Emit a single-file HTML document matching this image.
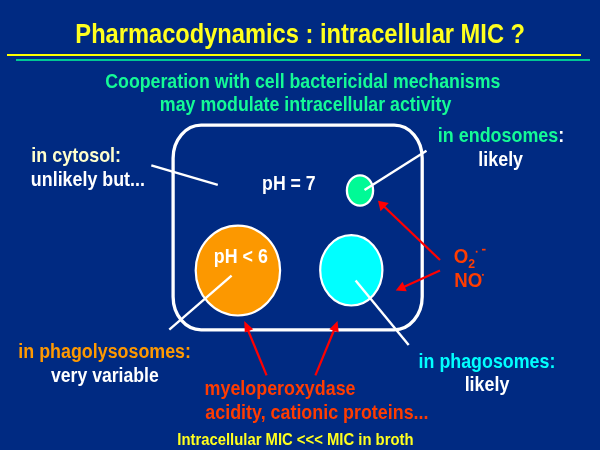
<!DOCTYPE html>
<html><head><meta charset="utf-8">
<style>
html,body{margin:0;padding:0;}
body{width:600px;height:450px;background:#002a82;overflow:hidden;}
svg{display:block;will-change:transform;}
text{font-family:"Liberation Sans",sans-serif;font-weight:bold;}
</style></head><body>
<svg width="600" height="450" viewBox="0 0 600 450">
<rect x="7" y="54" width="574" height="2" fill="#ffff00"/>
<rect x="16" y="59" width="574" height="2" fill="#00c896"/>
<rect x="173.1" y="125.2" width="249.1" height="204.6" rx="28" ry="33" fill="none" stroke="#fff" stroke-width="3.3"/>
<ellipse cx="237.9" cy="270.6" rx="42.2" ry="44.9" fill="#fc9800" stroke="#fff" stroke-width="2.2"/>
<ellipse cx="351.3" cy="270.3" rx="31.1" ry="35.2" fill="#00ffff" stroke="#fff" stroke-width="2.2"/>
<ellipse cx="360" cy="190.5" rx="13.1" ry="15.1" fill="#00fa96" stroke="#fff" stroke-width="2.3"/>
<g stroke="#fff" stroke-width="2.4" fill="none">
<line x1="151.3" y1="165.3" x2="217.8" y2="184.8"/>
<line x1="364.5" y1="190" x2="426.5" y2="150.7"/>
<line x1="231.6" y1="275.6" x2="169.3" y2="329.7"/>
<line x1="355.6" y1="280.4" x2="408.7" y2="345"/>
</g>
<g stroke="#ff0000" stroke-width="2.2" fill="#ff0000">
<line x1="440" y1="260" x2="383" y2="205.5"/>
<polygon points="378,200.75 388.75,203 380.5,211.25" stroke="none"/>
<line x1="440" y1="270.5" x2="402" y2="287.7"/>
<polygon points="395.75,290.5 402.5,281.75 406.75,291.25" stroke="none"/>
<line x1="266.6" y1="375.3" x2="247.5" y2="329"/>
<polygon points="244.2,320.9 253.2,329.3 244.8,332.4" stroke="none"/>
<line x1="315.4" y1="375.3" x2="334.5" y2="329"/>
<polygon points="337.5,320.9 338.7,332.4 329.4,329.3" stroke="none"/>
</g>
<g fill="#ff3c00">
<text transform="translate(453.7,262.7) scale(0.915,1)" font-size="20.4">O</text>
<text transform="translate(468.3,267.5) scale(0.915,1)" font-size="13.4">2</text>
<rect x="475.8" y="250.8" width="1.7" height="1.8"/>
<rect x="482" y="248.8" width="3.6" height="1.7"/>
<text transform="translate(454.3,286.8) scale(0.915,1)" font-size="20.4">NO</text>
<rect x="482" y="273.9" width="1.8" height="1.8"/>
</g>

<text transform="translate(75.35,42.8) scale(0.8836,1)" font-size="26.8" fill="#ffff1e">Pharmacodynamics : intracellular MIC ?</text>
<text transform="translate(105.32,87.5) scale(0.9099,1)" font-size="19.5" fill="#14fa96">Cooperation with cell bactericidal mechanisms</text>
<text transform="translate(159.86,110.8) scale(0.912,1)" font-size="19.5" fill="#14fa96">may modulate intracellular activity</text>
<text transform="translate(31.35,162) scale(0.9206,1)" font-size="19.5" fill="#ffffcc">in cytosol:</text>
<text transform="translate(30.86,185.9) scale(0.916,1)" font-size="19.5" fill="#ffffff">unlikely but...</text>
<text transform="translate(262.12,190.3) scale(0.9079,1)" font-size="19.5" fill="#ffffff">pH = 7</text>
<text transform="translate(213.86,262.5) scale(0.914,1)" font-size="19.5" fill="#ffffff">pH &lt; 6</text>
<text transform="translate(437.85,142.3) scale(0.919,1)" font-size="19.5" fill="#14fa96">in endosomes<tspan fill="#fff">:</tspan></text>
<text transform="translate(478.36,165.8) scale(0.9158,1)" font-size="19.5" fill="#ffffff">likely</text>
<text transform="translate(18.35,357.9) scale(0.9164,1)" font-size="19.5" fill="#ff9900">in phagolysosomes:</text>
<text transform="translate(50.97,382.25) scale(0.9049,1)" font-size="19.5" fill="#ffffff">very variable</text>
<text transform="translate(418.56,367.5) scale(0.9154,1)" font-size="19.5" fill="#00ffff">in phagosomes:</text>
<text transform="translate(464.66,391.2) scale(0.9158,1)" font-size="19.5" fill="#ffffff">likely</text>
<text transform="translate(204.6,395) scale(0.9171,1)" font-size="19.5" fill="#ff3c00">myeloperoxydase</text>
<text transform="translate(205.34,419) scale(0.918,1)" font-size="19.5" fill="#ff3c00">acidity, cationic proteins...</text>
<text transform="translate(177.34,445) scale(0.9106,1)" font-size="16.3" fill="#ffff1e">Intracellular MIC &lt;&lt;&lt; MIC in broth</text>
</svg>
</body></html>
